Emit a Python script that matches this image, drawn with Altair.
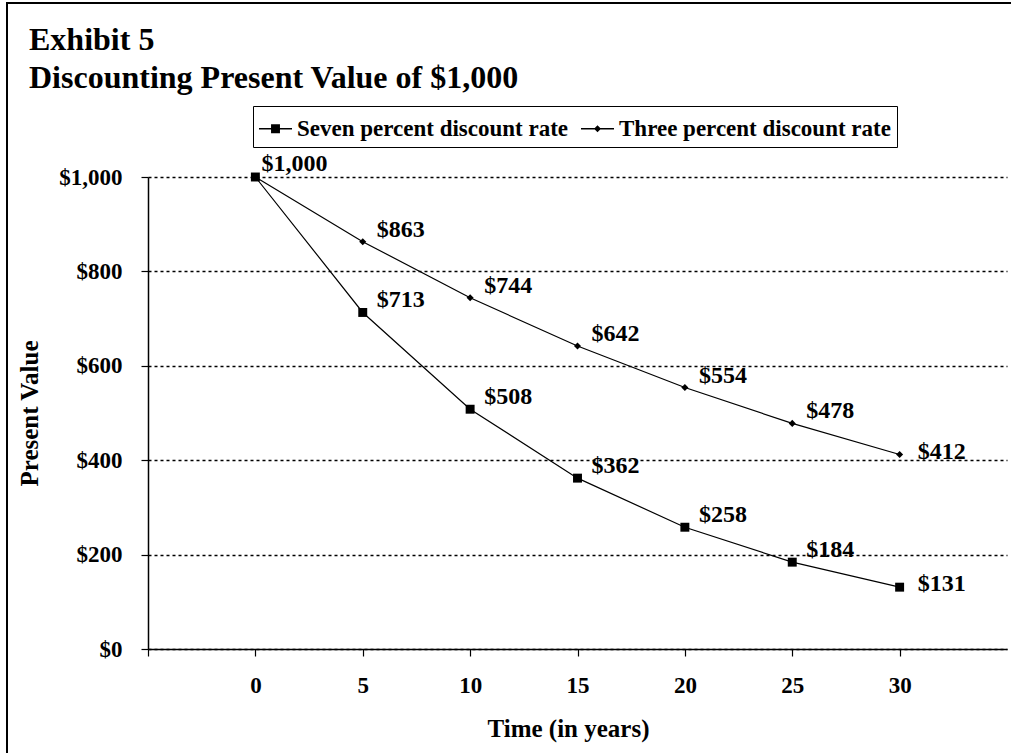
import altair as alt
import pandas as pd

# ---- data ----
years = [0, 5, 10, 15, 20, 25, 30]
seven_pct = [1000, 713, 508, 362, 258, 184, 131]
three_pct = [1000, 863, 744, 642, 554, 478, 412]
series_names = ["Seven percent discount rate", "Three percent discount rate"]
y_ticks = [0, 200, 400, 600, 800, 1000]
x_ticks = [-5, 0, 5, 10, 15, 20, 25, 30]
title_lines = ["Exhibit 5", "Discounting Present Value of $1,000"]

df = pd.DataFrame({
    "year": years + years,
    "value": seven_pct + three_pct,
    "series": [series_names[0]] * len(years) + [series_names[1]] * len(years),
})

FONT = "Liberation Serif"

x_enc = alt.X(
    "year:Q",
    scale=alt.Scale(domain=[-5, 35], nice=False, zero=False),
    axis=alt.Axis(
        values=x_ticks,
        labelExpr="datum.value < 0 ? '' : datum.value",
        grid=False,
        tickSize=7,
        labelPadding=18,
        title="Time (in years)",
        titleX=420,
        titleY=87,
        titleBaseline="alphabetic",
    ),
)
y_enc = alt.Y(
    "value:Q",
    scale=alt.Scale(domain=[0, 1000], nice=False),
    axis=alt.Axis(
        values=y_ticks,
        labelExpr="'$' + format(datum.value, ',')",
        tickSize=7,
        labelPadding=19,
        grid=True,
        gridDash=[3, 3],
        gridColor="black",
        gridWidth=1.6,
        title="Present Value",
        titleX=-111,
        titleY=236,
        titleAngle=-90,
        titleBaseline="alphabetic",
    ),
)

base = alt.Chart(df)

lines = base.mark_line(color="black", strokeWidth=1.2).encode(
    x=x_enc, y=y_enc, detail="series:N"
)

squares = base.transform_filter(alt.datum.series == series_names[0]).mark_point(
    shape="square", filled=True, color="black", size=80, opacity=1
).encode(x="year:Q", y="value:Q")

diamonds = base.transform_filter(alt.datum.series == series_names[1]).mark_point(
    shape="diamond", filled=True, color="black", size=50, opacity=1
).encode(x="year:Q", y="value:Q")

legend_layer = base.mark_point(filled=True, color="black", opacity=0).encode(
    x="year:Q",
    y="value:Q",
    shape=alt.Shape(
        "series:N",
        scale=alt.Scale(
            domain=series_names,
            range=[
                "M-1,-0.04H1V0.04H-1ZM-0.27,-0.27H0.27V0.27H-0.27Z",
                "M-1,-0.04H1V0.04H-1ZM-0.21,0L0,-0.21L0.21,0L0,0.21Z",
            ],
        ),
        legend=alt.Legend(
            orient="none",
            legendX=105,
            legendY=-71,
            direction="horizontal",
            title=None,
            strokeColor="black",
            padding=6,
            labelFont=FONT,
            labelFontSize=23,
            labelFontWeight="bold",
            labelColor="black",
            labelLimit=0,
            labelOffset=5,
            columnPadding=12,
            symbolSize=1089,
            symbolStrokeWidth=0,
            symbolFillColor="black",
            symbolOpacity=1,
        ),
    ),
)

lab = base.transform_filter(
    "!(datum.series == '%s' && datum.year == 0)" % series_names[1]
).transform_calculate(label="'$' + format(datum.value, ',')")

txt_kw = dict(font=FONT, fontSize=24, fontWeight="bold", color="black", align="left", baseline="middle")

labels_mid = lab.transform_filter("datum.year > 0 && datum.year < 30").mark_text(
    dx=14, dy=-12, **txt_kw
).encode(x="year:Q", y="value:Q", text="label:N")

labels_first = lab.transform_filter("datum.year == 0").mark_text(
    dx=6, dy=-13, **txt_kw
).encode(x="year:Q", y="value:Q", text="label:N")

labels_last = lab.transform_filter("datum.year == 30").mark_text(
    dx=18, dy=-3, **txt_kw
).encode(x="year:Q", y="value:Q", text="label:N")

title_kw = dict(font=FONT, fontSize=32, fontWeight="bold", color="black", align="left", baseline="alphabetic")
title1 = alt.Chart(alt.Data(values=[{"t": title_lines[0]}])).mark_text(**title_kw).encode(
    x=alt.value(-119), y=alt.value(-127), text="t:N"
)
title2 = alt.Chart(alt.Data(values=[{"t": title_lines[1]}])).mark_text(**title_kw).encode(
    x=alt.value(-119), y=alt.value(-89), text="t:N"
)

frame = alt.Chart(alt.Data(values=[{"a": 1}])).mark_rect(
    fill=None, stroke="black", strokeWidth=2
).encode(
    x=alt.value(-141), x2=alt.value(880), y=alt.value(-174), y2=alt.value(600)
)

chart = alt.layer(
    frame, lines, squares, diamonds, legend_layer, labels_mid, labels_first, labels_last,
    title1, title2,
).resolve_scale(shape="independent").properties(
    width=859,
    height=472,
    padding={"left": 148, "top": 177, "right": 4, "bottom": 104},
    autosize="none",
    background="white",
).configure_view(stroke=None).configure_axis(
    labelFont=FONT,
    labelFontSize=23,
    labelFontWeight="bold",
    labelColor="black",
    titleFont=FONT,
    titleFontSize=25,
    titleFontWeight="bold",
    titleColor="black",
    domainColor="black",
    domainWidth=1.5,
    tickColor="black",
    tickWidth=1.2,
)

chart.save("out.html", embed_options={"renderer": "svg", "actions": False})
